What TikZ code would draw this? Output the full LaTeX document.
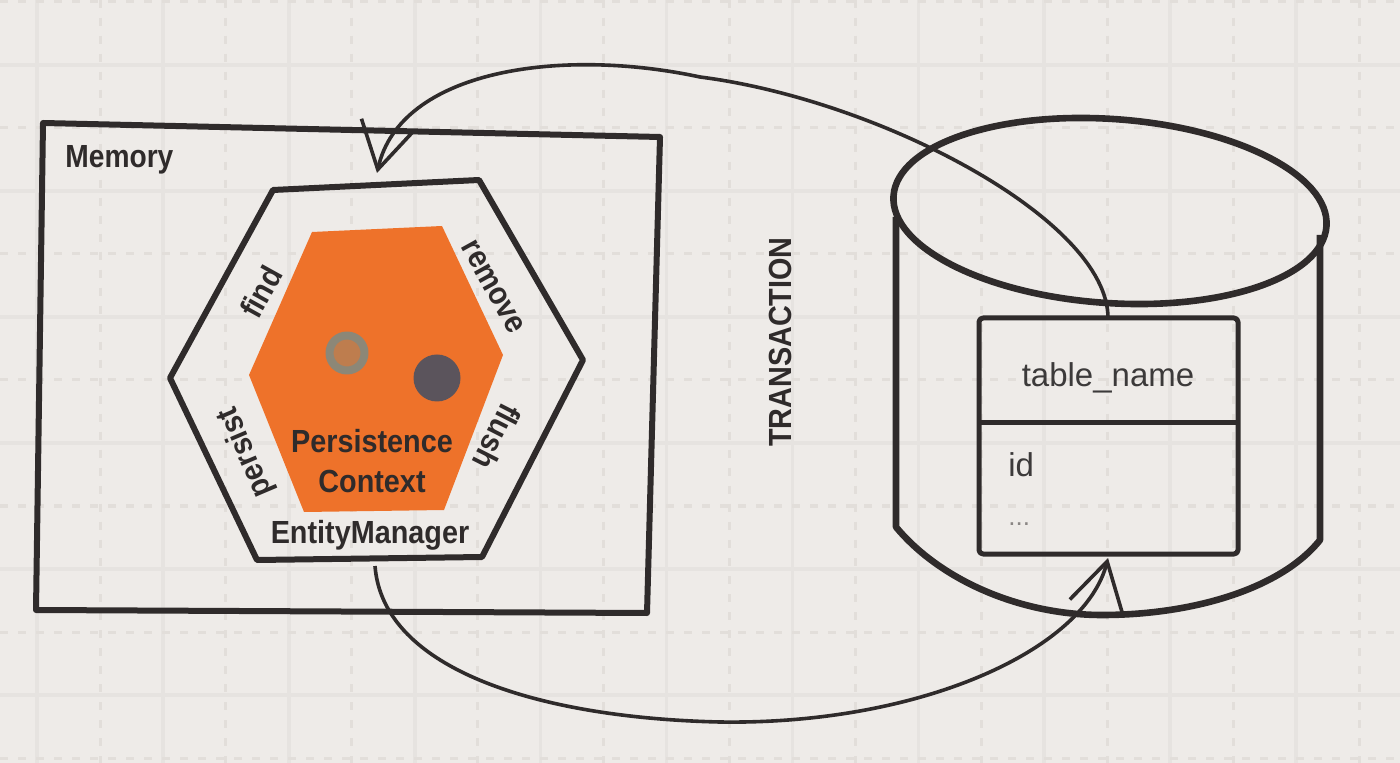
\documentclass[tikz,border=0pt]{standalone}
\usepackage{fontspec}
\setmainfont{Liberation Sans}
\usepackage{graphicx}
\usetikzlibrary{arrows.meta}
\definecolor{bg}{HTML}{EEEBE8}
\definecolor{gridsolid}{HTML}{E6E3E0}
\definecolor{griddash}{HTML}{E2DEDA}
\definecolor{ink}{HTML}{2F2B2B}
\definecolor{pcorange}{RGB}{238,114,42}
\definecolor{ringgray}{HTML}{8C8777}
\definecolor{ringfill}{HTML}{BE7D4E}
\definecolor{dotdark}{HTML}{5B545C}
\definecolor{txtgray}{HTML}{3C3A3A}
\definecolor{dotsgray}{HTML}{8A8684}
\begin{document}
\begin{tikzpicture}[x=0.5pt,y=-0.5pt, line join=round,
  frame/.style={draw=ink, line width=3pt},
  boldlbl/.style={text=ink, inner sep=0pt, font=\fontsize{16}{20}\selectfont\bfseries},
  plainlbl/.style={text=txtgray, inner sep=0pt, font=\fontsize{16.5}{20}\selectfont},
  conn/.style={draw=ink, line width=1.8pt, -{Straight Barb[length=23pt,width=27pt]}}
]
\useasboundingbox (0,0) rectangle (1400,763);
\fill[bg] (0,0) rectangle (1400,763);
% grid
\foreach \i in {0,...,10} \draw[gridsolid, line width=1.8pt] ({37+125.9*\i},0) -- ++(0,763);
\foreach \i in {0,...,10} \draw[griddash, line width=1.5pt, dash pattern=on 4pt off 5pt] ({100+125.9*\i},0) -- ++(0,763);
\foreach \j in {0,...,5} \draw[gridsolid, line width=1.8pt] (0,{65+126*\j}) -- ++(1400,0);
\foreach \j in {0,...,6} \draw[griddash, line width=1.5pt, dash pattern=on 4pt off 5pt] (0,{2+126*\j}) -- ++(1400,0);
% memory box
\draw[frame] (43,123) -- (660,137) -- (647,613) -- (36,610) -- cycle;
\node[boldlbl, anchor=base west] (memlbl) at (65,168) {\scalebox{0.88}[1]{Memory}};
% entity manager hexagon
\draw[frame] (273,190) -- (479,180) -- (583,360) -- (482,557) -- (257,560) -- (170,378) -- cycle;
\fill[pcorange] (312,232) -- (442,226) -- (503,355) -- (444,510) -- (304,512) -- (249,375) -- cycle;
\draw[ringgray, line width=4pt, fill=ringfill] (347,353) circle[radius=17.5];
\fill[dotdark] (437,378) circle[radius=23.5];
\node[boldlbl, rotate=61] (find) at (261,292) {\scalebox{0.9}[1]{find}};
\node[boldlbl, rotate=-61] (remove) at (493,287) {\scalebox{0.9}[1]{remove}};
\node[boldlbl, rotate=113] (persist) at (246,452) {\scalebox{0.9}[1]{persist}};
\node[boldlbl, rotate=-117] (flush) at (497,437) {\scalebox{0.9}[1]{flush}};
\node[boldlbl, align=center] (pc) at (372,461) {\scalebox{0.9}[1]{Persistence}\\\scalebox{0.9}[1]{Context}};
\node[boldlbl, anchor=base] (em) at (370,543) {\scalebox{0.9}[1]{EntityManager}};
% transaction label
\node[boldlbl, rotate=90] (tx) at (780,342) {\scalebox{0.9}[1]{TRANSACTION}};
% database cylinder
\draw[frame, line width=3.3pt, rotate around={-4:(1110,211)}] (1110,211) ellipse [x radius=217, y radius=92];
\draw[frame, line width=3.3pt] (896,217) -- (896,527) .. controls (940,580) and (1020,615) .. (1102,615) .. controls (1190,615) and (1280,590) .. (1320,540) -- (1320,235);
% table
\draw[ink, line width=2.5pt, rounded corners=2pt] (979,318) rectangle (1238,554);
\draw[ink, line width=2.5pt] (979,423) -- (1238,423);
\node[plainlbl, anchor=base] (tname) at (1108,387) {table\_name};
\node[plainlbl, anchor=base west] (colid) at (1008,477) {id};
\node[plainlbl, text=dotsgray, font=\fontsize{13}{16}\selectfont, anchor=base west] (more) at (1008,525) {...};
% connectors
\coordinate (tbltop) at (1108,318);
\coordinate (hextip) at (377,173);
\coordinate (hexbot) at (375,566);
\coordinate (tblbot) at (1108,558);
\draw[conn] (tbltop) .. controls (1108,220) and (880,100) .. (700,77) .. controls (560,47) and (400,70) .. (hextip);
\draw[conn] (hexbot) .. controls (383,670) and (540,718) .. (720,722) .. controls (920,725) and (1085,650) .. (tblbot);
\end{tikzpicture}
\end{document}
